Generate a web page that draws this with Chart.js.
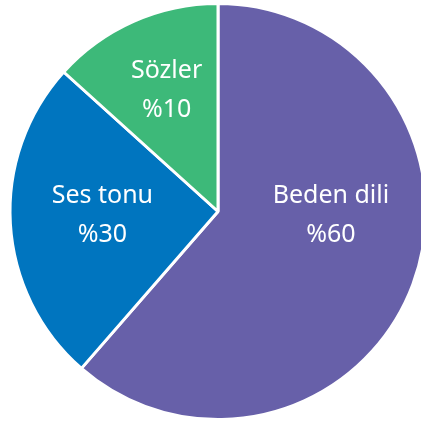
<!DOCTYPE html>
<html>
<head>
<meta charset="utf-8">
<script src="https://cdn.jsdelivr.net/npm/chart.js@4"></script>
<style>
  html, body { margin: 0; padding: 0; background: #fff; overflow: hidden; }
  #wrap { width: 436px; height: 423px; }
</style>
</head>
<body>
<div id="wrap"><canvas id="chartPie"></canvas></div>
<script>
// slices as drawn (the printed labels say 60 / 30 / 10)
const categories = ["Beden dili", "Ses tonu", "Sözler"];
const sliceValues = [61.4, 25.3, 13.3];
const percentLabels = ["%60", "%30", "%10"];
const colorPalette = ["#6760A9", "#0075BF", "#3DB979"];

// where each label block sits, relative to pie centre, as fraction of radius
const labelSpots = [
    { dx: 0.543, dy: 0.053 },
    { dx: -0.556, dy: 0.053 },
    { dx: -0.247, dy: -0.548 }
];

const sliceLabels = {
    id: "sliceLabels",
    afterDatasetsDraw(chart) {
        const ctx = chart.ctx;
        const arcs = chart.getDatasetMeta(0).data;
        ctx.save();
        ctx.fillStyle = "#ffffff";
        ctx.font = "25px 'Noto Sans'";
        ctx.textAlign = "center";
        ctx.textBaseline = "alphabetic";
        arcs.forEach((arc, i) => {
            const r = arc.outerRadius;
            const x = arc.x + labelSpots[i].dx * r;
            const y = arc.y + labelSpots[i].dy * r;
            ctx.fillText(categories[i], x, y - 19.5);
            ctx.fillText(percentLabels[i], x, y + 19.5);
        });
        ctx.restore();
    }
};

const ctx = document.getElementById("chartPie").getContext("2d");
new Chart(ctx, {
    type: "pie",
    data: {
        labels: categories,
        datasets: [{
            data: sliceValues,
            backgroundColor: colorPalette,
            borderColor: "#ffffff",
            borderWidth: 3,
            hoverOffset: 0
        }]
    },
    options: {
        responsive: true,
        maintainAspectRatio: false,
        animation: false,
        layout: { padding: { top: 2, bottom: 2 } },
        plugins: {
            legend: { display: false },
            tooltip: { enabled: false }
        }
    },
    plugins: [sliceLabels]
});
</script>
</body>
</html>
